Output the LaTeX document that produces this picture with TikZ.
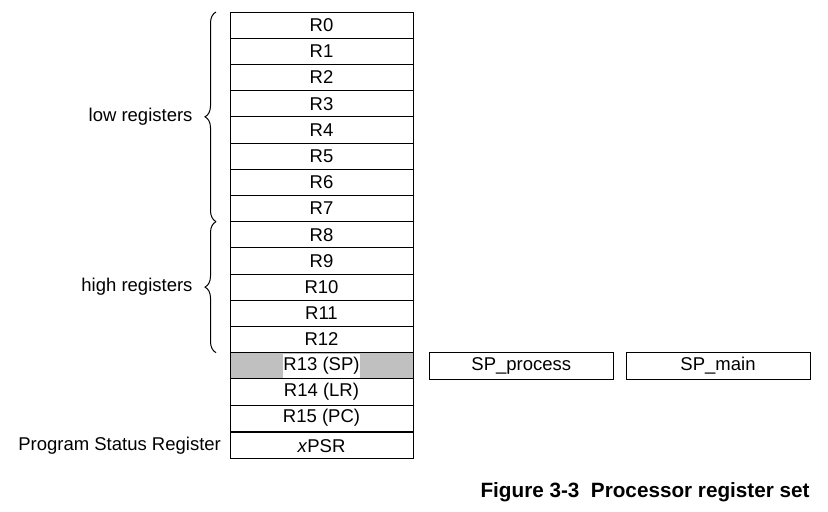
\documentclass[tikz,border=0pt]{standalone}
\usepackage{fontspec}
\setmainfont{Liberation Sans}
\usetikzlibrary{positioning,matrix,decorations.pathreplacing}

\definecolor{spgray}{RGB}{192,192,192}

\tikzstyle{reg}=[rectangle,
    draw=black,
    line width=0.5pt,
    inner sep=0pt,
    outer sep=0pt,
    minimum height=13.1pt,
    minimum width=91.5pt]
\tikzstyle{stackptr}=[reg,
    minimum height=13.3pt,
    minimum width=92pt]
\tikzstyle{regbrace}=[decorate,
    decoration={brace,amplitude=5.5pt},
    line width=0.5pt]
\tikzstyle{note}=[inner sep=0pt]

\begin{document}
\begin{tikzpicture}[x=0.5pt,y=-0.5pt,font=\fontsize{9.25}{11}\selectfont]
            \useasboundingbox (0,0) rectangle (828,511);
            \matrix (regs) at (321.5,221.6) [row sep=-0.5pt, inner sep=0pt, outer sep=0pt, nodes={reg}] {
                \node (r0) {R0};\\
                \node (r1) {R1};\\
                \node (r2) {R2};\\
                \node (r3) {R3};\\
                \node (r4) {R4};\\
                \node (r5) {R5};\\
                \node (r6) {R6};\\
                \node (r7) {R7};\\
                \node (r8) {R8};\\
                \node (r9) {R9};\\
                \node (r10) {R10};\\
                \node (r11) {R11};\\
                \node (r12) {R12};\\
                \node (r13) [fill=spgray, label={[draw=none, fill=white, inner sep=0pt, minimum width=0pt, minimum height=12pt]center:R13 (SP)}] {};\\
                \node (r14) {R14 (LR)};\\
                \node (r15) {R15 (PC)};\\
            };
            \node (xpsr) [reg, minimum height=13pt, below=0.75pt of r15] {\textit{x}PSR};
            \node (spproc) [stackptr, right=8.15pt of r13] {SP\_process};
            \node (spmain) [stackptr, right=6.35pt of spproc] {SP\_main};
            % register groups
            \draw [regbrace] ([xshift=-7pt]r7.south west) -- ([xshift=-7pt]r0.north west)
                node[note, midway, left=11.5pt] {low registers};
            \draw [regbrace] ([xshift=-7pt]r12.south west) -- ([xshift=-7pt]r8.north west)
                node[note, midway, left=11.5pt] {high registers};
            \node (psrlabel) [note, left=4.35pt of xpsr] {Program Status Register};
            \node (caption) [note, anchor=base east, font=\fontsize{10.35}{12}\selectfont\bfseries] at (810,497) {Figure 3-3\ \ Processor register set};
        \end{tikzpicture}
\end{document}
